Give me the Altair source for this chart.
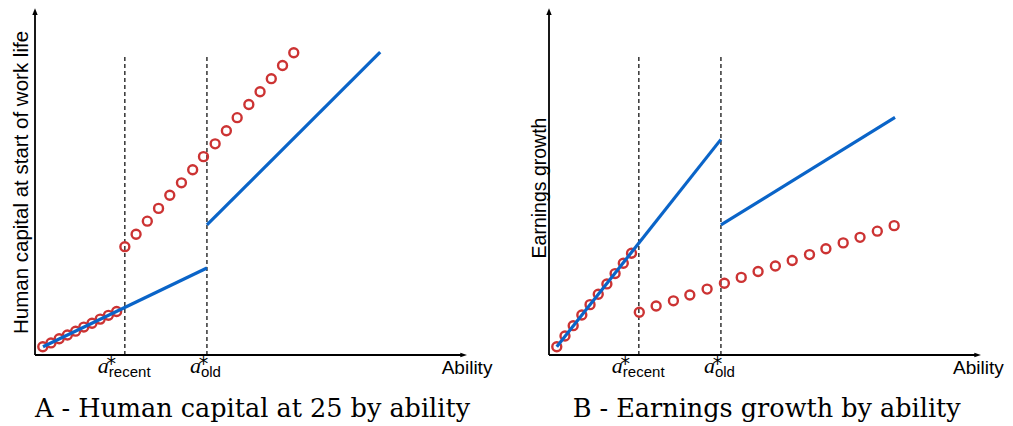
import altair as alt
import pandas as pd

# threshold abilities (shared by both panels)
a_recent = 20.8
a_old = 39.8
dash_top = 87.0

# ---------------- Panel A: human capital at 25 ----------------
A_line_seg = ["below", "below", "above", "above"]
A_line_x = [1.85, 39.8, 39.8, 79.9]
A_line_y = [2.4, 25.2, 37.7, 87.8]
A_dot_x = [1.8, 3.7, 5.6, 7.5, 9.4, 11.3, 13.2, 15.1, 17.0, 18.9,
           20.8, 23.4, 26.0, 28.6, 31.2, 33.9, 36.5, 39.0, 41.7, 44.3,
           46.8, 49.5, 52.1, 54.7, 57.3, 59.9]
A_dot_y = [2.4, 3.5, 4.7, 5.8, 6.9, 8.1, 9.2, 10.4, 11.5, 12.6,
           31.4, 35.0, 38.8, 42.5, 46.3, 49.9, 53.7, 57.5, 61.2, 65.0,
           68.8, 72.6, 76.3, 80.1, 83.9, 87.6]

# ---------------- Panel B: earnings growth ----------------
B_line_seg = ["below", "below", "above", "above"]
B_line_x = [1.8, 39.8, 39.8, 80.1]
B_line_y = [2.4, 62.5, 37.7, 68.9]
B_dot_x = [1.8, 3.7, 5.6, 7.6, 9.5, 11.4, 13.4, 15.3, 17.2, 19.1,
           20.9, 24.8, 28.8, 32.6, 36.6, 40.6, 44.5, 48.4, 52.4, 56.3,
           60.3, 64.1, 68.1, 72.0, 76.0, 79.9]
B_dot_y = [2.4, 5.5, 8.5, 11.6, 14.6, 17.6, 20.6, 23.6, 26.6, 29.5,
           12.4, 14.2, 15.7, 17.4, 19.1, 20.8, 22.5, 24.2, 25.8, 27.4,
           29.1, 30.8, 32.5, 34.1, 35.9, 37.5]

BLUE = "#0a64c8"
RED = "#cc3333"
SANS = "Liberation Sans"
H = 410
OY = 347          # pixel row of the origin inside a panel
PPU_X = 4.32
PPU_Y = 3.45

ARROW_R = "M0,0 L-2,-0.7 L-2,0.7 Z"
ARROW_U = "M0,0 L-0.8,2 L0.8,2 Z"


def star_label(xs, xval, sub, dx):
    d = pd.DataFrame({"x": [xval]})
    base = alt.Chart(d)
    a = base.mark_text(text="a", font="Liberation Serif", fontStyle="italic",
                       fontSize=22, align="right", baseline="alphabetic",
                       dx=dx).encode(x=alt.X("x:Q", scale=xs, axis=None),
                                     y=alt.value(365.3))
    star = base.mark_text(text="*", font="DejaVu Sans", fontSize=19,
                          align="center", baseline="alphabetic",
                          dx=dx + 2.5).encode(
        x=alt.X("x:Q", scale=xs, axis=None), y=alt.value(361.5))
    s = base.mark_text(text=sub, font=SANS, fontSize=15, align="left",
                       baseline="alphabetic", dx=dx).encode(
        x=alt.X("x:Q", scale=xs, axis=None), y=alt.value(369))
    return [a, star, s]


def panel(W, ox, seg, lx, ly, dx_, dy_, ytitle, yt_x, yt_y, yt_size,
          ab_x, caption, cap_x, rec_dx, old_dx):
    xs = alt.Scale(domain=[-ox / PPU_X, (W - ox) / PPU_X], nice=False, zero=False)
    ys = alt.Scale(domain=[-(H - OY) / PPU_Y, OY / PPU_Y], nice=False, zero=False)
    X = lambda f: alt.X(f, scale=xs, axis=None)
    Y = lambda f: alt.Y(f, scale=ys, axis=None)

    dashes = alt.Chart(pd.DataFrame({"x": [a_recent, a_old], "y": [0, 0],
                                     "y2": [dash_top, dash_top]})).mark_rule(
        color="black", strokeWidth=1.2, strokeDash=[4, 3]).encode(
        x=X("x:Q"), y=Y("y:Q"), y2="y2:Q")

    dots = alt.Chart(pd.DataFrame({"x": dx_, "y": dy_})).mark_point(
        shape="circle", filled=False, size=80, strokeWidth=2.4, color=RED,
        opacity=1).encode(x=X("x:Q"), y=Y("y:Q"))

    lines = alt.Chart(pd.DataFrame({"seg": seg, "x": lx, "y": ly})).mark_line(
        color=BLUE, strokeWidth=3.2).encode(x=X("x:Q"), y=Y("y:Q"), detail="seg:N")

    axes = alt.Chart(pd.DataFrame({"x": [0, 0], "x2": [99, 0], "y": [0, 0],
                                   "y2": [0, 99.5]})).mark_rule(
        color="black", strokeWidth=1.8).encode(
        x=X("x:Q"), x2="x2:Q", y=Y("y:Q"), y2="y2:Q")

    heads = alt.Chart(pd.DataFrame({"x": [100, 0], "y": [0, 100.5],
                                    "s": [ARROW_R, ARROW_U]})).mark_point(
        filled=True, size=45, color="black", strokeWidth=0, opacity=1).encode(
        x=X("x:Q"), y=Y("y:Q"), shape=alt.Shape("s:N", scale=None))

    one = pd.DataFrame({"t": [0]})
    ytit = alt.Chart(one).mark_text(text=ytitle, font=SANS, fontSize=yt_size,
                                    angle=270, align="center",
                                    baseline="alphabetic").encode(
        x=alt.value(yt_x), y=alt.value(yt_y))
    abil = alt.Chart(one).mark_text(text="Ability", font=SANS, fontSize=19,
                                    align="left", baseline="alphabetic").encode(
        x=alt.value(ab_x), y=alt.value(366.3))
    cap = alt.Chart(one).mark_text(text=caption, font="DejaVu Serif",
                                   fontSize=25.5, align="center",
                                   baseline="alphabetic").encode(
        x=alt.value(cap_x), y=alt.value(408.5))

    labels = star_label(xs, a_recent, "recent", rec_dx) + \
        star_label(xs, a_old, "old", old_dx)

    return alt.layer(dashes, dots, lines, axes, heads, ytit, abil, cap,
                     *labels).properties(width=W, height=H)


pA = panel(505, 27, A_line_seg, A_line_x, A_line_y, A_dot_x, A_dot_y,
           "Human capital at start of work life", 20.3, 174.5, 20.5,
           433.7, "A - Human capital at 25 by ability", 244.5, -16, -6)
pB = panel(492, 36, B_line_seg, B_line_x, B_line_y, B_dot_x, B_dot_y,
           "Earnings growth", 32.5, 180, 19.5,
           440, "B - Earnings growth by ability", 253.7, -16, -6)

chart = alt.hconcat(pA, pB, spacing=0).properties(padding=0).configure_view(
    stroke=None)

chart.save("out.html", embed_options={"renderer": "svg", "actions": False})
